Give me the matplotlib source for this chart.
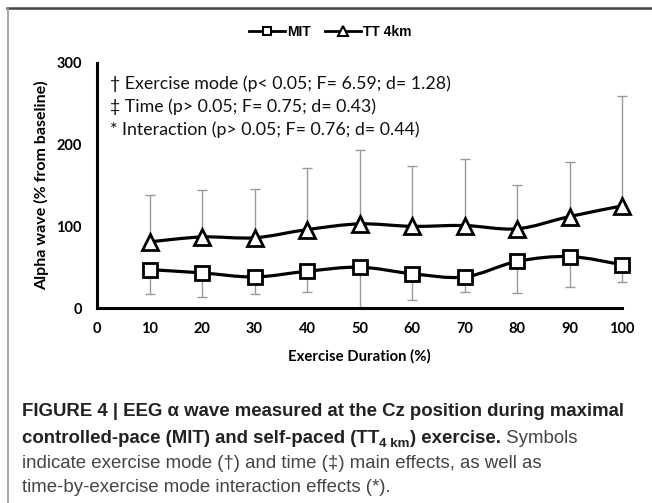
import matplotlib
matplotlib.use("Agg")
import matplotlib.pyplot as plt
import numpy as np
from matplotlib.lines import Line2D
from matplotlib.path import Path
from matplotlib.patches import PathPatch

# values
duration = [10, 20, 30, 40, 50, 60, 70, 80, 90, 100]
mit_mean = [47, 43, 38, 45, 50, 42, 38, 57, 63, 53]
mit_lower = [30, 29, 21, 25, 50, 32, 19, 39, 37, 21]
tt_mean = [81, 87, 86, 96, 103, 100, 101, 97, 112, 125]
tt_upper = [57, 57, 60, 75, 91, 74, 82, 54, 67, 134]

y_ticks = [0, 100, 200, 300]
x_ticks = [0, 10, 20, 30, 40, 50, 60, 70, 80, 90, 100]
stats_lines = [
    "\u2020 Exercise mode (p< 0.05; F= 6.59; d= 1.28)",
    "\u2021 Time (p> 0.05; F= 0.75; d= 0.43)",
    "* Interaction (p> 0.05; F= 0.76; d= 0.44)",
]

CAP_FONT = "Liberation Sans"
CHART_FONT = "Lato"
W, H = 652, 503


def smooth_path(xs, ys):
    """Excel-style smoothed line as cubic Bezier segments."""
    pts = np.column_stack([xs, ys]).astype(float)
    n = len(pts)
    verts = [pts[0]]
    codes = [Path.MOVETO]
    for i in range(n - 1):
        p0 = pts[i - 1] if i > 0 else pts[i]
        p1 = pts[i]
        p2 = pts[i + 1]
        p3 = pts[i + 2] if i + 2 < n else pts[i + 1]
        verts += [p1 + (p2 - p0) / 6.0, p2 - (p3 - p1) / 6.0, p2]
        codes += [Path.CURVE4] * 3
    return Path(verts, codes)


fig = plt.figure(figsize=(6.52, 5.03), dpi=100)
renderer = fig.canvas.get_renderer()


def fit(t, px, along="width"):
    """Scale a text's font size so it spans the given pixel length."""
    bb = t.get_window_extent(renderer)
    cur = bb.width if along == "width" else bb.height
    t.set_fontsize(t.get_fontsize() * px / cur)
    return t


# frame lines of the figure panel
fig.add_artist(Line2D([7 / W, 1], [1 - 8 / H, 1 - 8 / H], color="#444444", lw=1.8))
fig.add_artist(Line2D([8 / W, 8 / W], [0, 1 - 8 / H], color="#999999", lw=1.2))

ax = fig.add_axes([97 / W, (H - 308) / H, 525 / W, 245 / H])
ax.set_xlim(0, 100)
ax.set_ylim(0, 300)
for side in ("top", "right"):
    ax.spines[side].set_visible(False)
for side in ("left", "bottom"):
    ax.spines[side].set_linewidth(2.2)
    ax.spines[side].set_zorder(5)
ax.tick_params(length=0)
ax.tick_params(axis="y", pad=11)
ax.tick_params(axis="x", pad=10)
ax.set_xticks(x_ticks)
ax.set_yticks(y_ticks)
for lab in ax.get_xticklabels() + ax.get_yticklabels():
    lab.set_fontfamily(CHART_FONT)
    lab.set_fontweight("bold")
    lab.set_fontsize(10.5)

grey = "#9a9a9a"
ax.errorbar(duration, mit_mean, yerr=[mit_lower, np.zeros(len(duration))], fmt="none",
            ecolor=grey, elinewidth=1, capsize=3.5, capthick=1, zorder=2, clip_on=False)
ax.errorbar(duration, tt_mean, yerr=[np.zeros(len(duration)), tt_upper], fmt="none",
            ecolor=grey, elinewidth=1, capsize=3.5, capthick=1, zorder=2, clip_on=False)

for ys in (mit_mean, tt_mean):
    ax.add_patch(PathPatch(smooth_path(duration, ys), facecolor="none", edgecolor="black",
                           lw=2.3, zorder=3, clip_on=False))

ax.plot(duration, mit_mean, ls="none", marker="s", ms=10, mfc="white", mec="black", mew=2,
        zorder=4, clip_on=False)
ax.plot(duration, tt_mean, ls="none", marker="^", ms=12, mfc="white", mec="black", mew=2,
        zorder=4, clip_on=False)

ylab = ax.set_ylabel("Alpha wave (% from baseline)", fontfamily=CHART_FONT, fontweight="bold",
                     fontsize=10.5)
fit(ylab, 210, along="height")
ax.yaxis.set_label_coords((42 - 97) / 525, 0.5)
ylab.set_va("center")

xlab = ax.set_xlabel("Exercise Duration (%)", fontfamily=CHART_FONT, fontweight="bold",
                     fontsize=10.5)
fit(xlab, 142)
ax.xaxis.set_label_coords(0.5, -(356 - 308) / 245)
xlab.set_va("center")

stats_size = None
for i, line in enumerate(stats_lines):
    t = fig.text(110 / W, 1 - (84 + 23 * i) / H, line, fontfamily=CHART_FONT, fontsize=12,
                 va="center", ha="left", color="#111111")
    if stats_size is None:
        fit(t, 338)
        stats_size = t.get_fontsize()
    else:
        t.set_fontsize(stats_size)

# legend at the top of the panel
leg_handles = [
    Line2D([], [], color="black", lw=2, marker="s", ms=6, mfc="white", mec="black", mew=1.5),
    Line2D([], [], color="black", lw=2, marker="^", ms=7, mfc="white", mec="black", mew=1.5),
]
fig.legend(leg_handles, ["MIT", "TT 4km"], loc="center", bbox_to_anchor=(330 / W, 1 - 32 / H),
           ncol=2, frameon=False, handlelength=2.6, handletextpad=0.15, columnspacing=1.0,
           prop={"family": CAP_FONT, "weight": "bold", "size": 10})

# caption with mixed weights
cap_size = 13.45


def put(x_px, y_px, s, weight="normal", size=cap_size, color="#222222"):
    t = fig.text(x_px / W, 1 - y_px / H, s, fontfamily=CAP_FONT, fontweight=weight,
                 fontsize=size, va="baseline", ha="left", color=color)
    bb = t.get_window_extent(renderer)
    return x_px + bb.width


put(22, 416, "FIGURE 4 | EEG \u03b1 wave measured at the Cz position during maximal", "bold")
x = put(22, 443, "controlled-pace (MIT) and self-paced (TT", "bold")
x = put(x, 447, "4 km", "bold", size=cap_size * 0.72)
x = put(x, 443, ") exercise.", "bold")
put(x, 443, " Symbols", "normal", color="#444444")
put(22, 468, "indicate exercise mode (\u2020) and time (\u2021) main effects, as well as",
    color="#444444")
put(22, 492, "time-by-exercise mode interaction effects (*).", color="#444444")

fig.savefig("out.png", dpi=100)
